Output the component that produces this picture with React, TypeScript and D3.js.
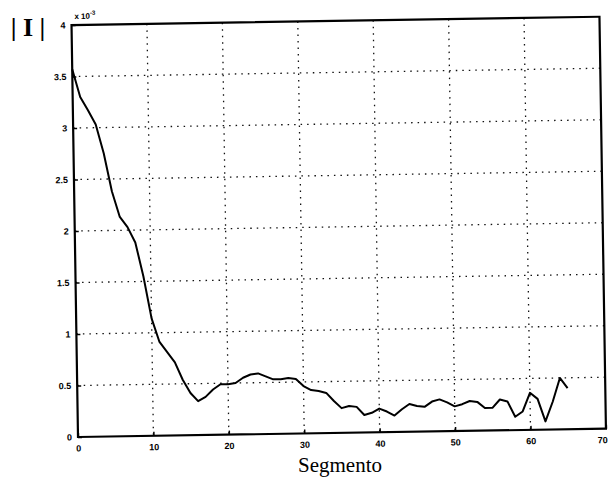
import React, { useEffect, useRef } from 'react';
import * as d3 from 'd3';

// segment index and |I| (x 1e-3)
const segments = d3.range(0, 66);
const current = [
  3.57, 3.3, 3.17, 3.03, 2.75, 2.38, 2.13, 2.03, 1.88, 1.55,
  1.14, 0.91, 0.81, 0.71, 0.54, 0.41, 0.33, 0.37, 0.44, 0.49,
  0.49, 0.5, 0.55, 0.58, 0.59, 0.56, 0.53, 0.53, 0.54, 0.53,
  0.46, 0.42, 0.41, 0.39, 0.31, 0.24, 0.26, 0.25, 0.17, 0.19,
  0.23, 0.2, 0.16, 0.22, 0.27, 0.25, 0.24, 0.29, 0.31, 0.28,
  0.24, 0.26, 0.29, 0.28, 0.22, 0.22, 0.3, 0.28, 0.13, 0.18,
  0.36, 0.3, 0.08, 0.27, 0.5, 0.4,
];
const xTicks = [0, 10, 20, 30, 40, 50, 60, 70];
const yTicks = [0, 0.5, 1, 1.5, 2, 2.5, 3, 3.5, 4];

export default function App() {
  const svgRef = useRef<SVGSVGElement>(null);
  const width = 610;
  const height = 482;
  const margin = { top: 25, right: 4, bottom: 45, left: 78 };

  useEffect(() => {
    if (!svgRef.current) return;
    const svg = d3.select(svgRef.current);
    svg.selectAll('*').remove();

    const innerWidth = width - margin.left - margin.right;
    const innerHeight = height - margin.top - margin.bottom;

    const x = d3.scaleLinear().domain([0, 70]).range([0, innerWidth]);
    const y = d3.scaleLinear().domain([0, 4]).range([innerHeight, 0]);

    // scanned page is slightly tilted
    const g = svg.append('g')
      .attr('transform', `rotate(-0.9, ${margin.left}, ${margin.top + innerHeight}) translate(${margin.left},${margin.top})`);

    // dotted grid
    g.selectAll('line.gx')
      .data(xTicks.slice(1, -1))
      .enter()
      .append('line')
      .attr('x1', d => x(d))
      .attr('x2', d => x(d))
      .attr('y1', 0)
      .attr('y2', innerHeight)
      .attr('stroke', '#111')
      .attr('stroke-width', 1.3)
      .attr('stroke-dasharray', '1.5,5');

    g.selectAll('line.gy')
      .data(yTicks.slice(1, -1))
      .enter()
      .append('line')
      .attr('x1', 0)
      .attr('x2', innerWidth)
      .attr('y1', d => y(d))
      .attr('y2', d => y(d))
      .attr('stroke', '#111')
      .attr('stroke-width', 1.3)
      .attr('stroke-dasharray', '1.5,5');

    // axes with inward ticks
    const xAxis = g.append('g')
      .attr('transform', `translate(0,${innerHeight})`)
      .call(d3.axisBottom(x).tickValues(xTicks).tickSize(-4).tickPadding(8).tickFormat(d3.format('d')));
    const yAxis = g.append('g')
      .call(d3.axisLeft(y).tickValues(yTicks).tickSize(-4).tickPadding(6).tickFormat(d => String(d)));

    [xAxis, yAxis].forEach(a => {
      a.select('.domain').remove();
      a.selectAll('line').attr('stroke', '#000').attr('stroke-width', 1.5);
      a.selectAll('text')
        .attr('fill', '#000')
        .attr('font-family', 'Liberation Sans, Arial, sans-serif')
        .attr('font-weight', 'bold')
        .attr('font-size', 9);
    });
    // last x label sits right on the page edge
    xAxis.selectAll<SVGTextElement, number>('text')
      .filter(d => d === 70)
      .attr('dx', -4);

    // frame
    g.append('rect')
      .attr('width', innerWidth)
      .attr('height', innerHeight)
      .attr('fill', 'none')
      .attr('stroke', '#000')
      .attr('stroke-width', 2.2);

    // curve
    const line = d3.line<number>()
      .x((_, i) => x(segments[i]))
      .y(d => y(d));

    g.append('path')
      .datum(current)
      .attr('d', line)
      .attr('fill', 'none')
      .attr('stroke', '#000')
      .attr('stroke-width', 2)
      .attr('stroke-linejoin', 'round');

    // exponent
    g.append('text')
      .attr('x', 3)
      .attr('y', -6)
      .attr('font-family', 'Liberation Sans, Arial, sans-serif')
      .attr('font-weight', 'bold')
      .attr('font-size', 8)
      .attr('fill', '#000')
      .text('x 10')
      .append('tspan')
      .attr('dy', -4)
      .attr('font-size', 6)
      .text('-3');

    // y label
    svg.append('text')
      .attr('x', 28)
      .attr('y', 36)
      .attr('text-anchor', 'middle')
      .attr('font-family', 'Liberation Serif, Times New Roman, serif')
      .attr('font-weight', 'bold')
      .attr('font-size', 26)
      .attr('fill', '#000')
      .text('| I |');

    // x label
    svg.append('text')
      .attr('x', 340)
      .attr('y', 472)
      .attr('text-anchor', 'middle')
      .attr('font-family', 'Liberation Serif, Times New Roman, serif')
      .attr('font-size', 21)
      .attr('fill', '#000')
      .text('Segmento');
  }, []);

  return (
    <svg
      ref={svgRef}
      width={width}
      height={height}
      style={{ position: 'absolute', left: 0, top: 0, background: '#fff' }}
    />
  );
}
